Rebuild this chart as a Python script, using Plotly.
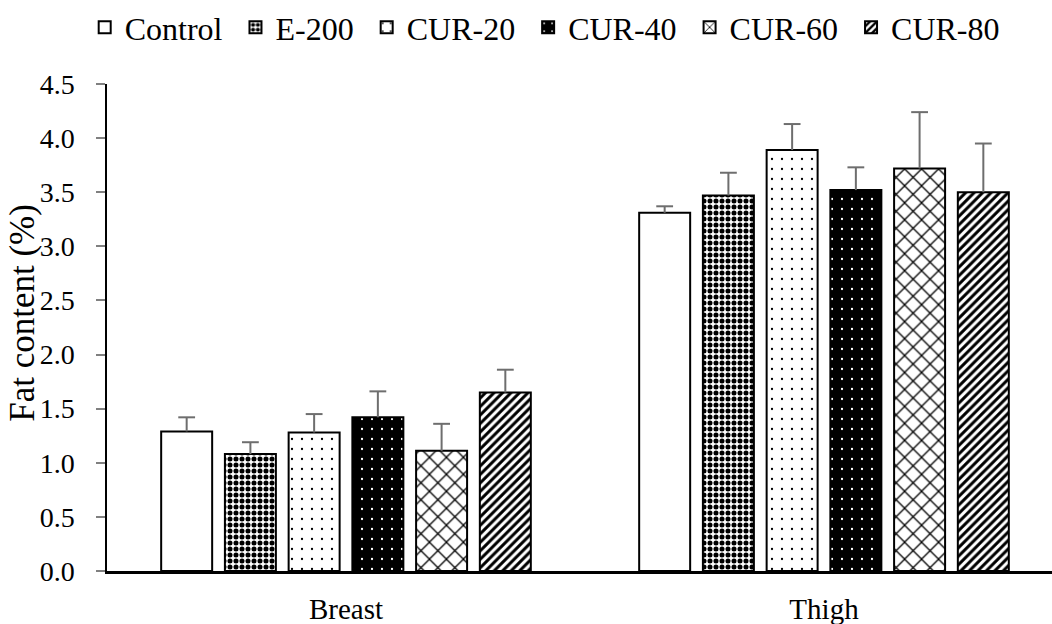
import plotly.graph_objects as go

# Fat content (%) of breast and thigh meat per treatment
categories = ["Breast", "Thigh"]
treatments = ["Control", "E-200", "CUR-20", "CUR-40", "CUR-60", "CUR-80"]
means = {
    "Control": [1.29, 3.31],
    "E-200":   [1.08, 3.47],
    "CUR-20":  [1.28, 3.89],
    "CUR-40":  [1.42, 3.52],
    "CUR-60":  [1.11, 3.72],
    "CUR-80":  [1.65, 3.50],
}
sd = {
    "Control": [0.13, 0.06],
    "E-200":   [0.11, 0.21],
    "CUR-20":  [0.17, 0.24],
    "CUR-40":  [0.24, 0.21],
    "CUR-60":  [0.25, 0.52],
    "CUR-80":  [0.21, 0.45],
}
y_ticks = [0.0, 0.5, 1.0, 1.5, 2.0, 2.5, 3.0, 3.5, 4.0, 4.5]

# fill pattern per treatment: (shape, bg, fg, size, solidity)
patterns = {
    "Control": ("", "white", "black", 8, 0.3),
    "E-200":   (".", "white", "black", 6, 0.55),
    "CUR-20":  (".", "white", "black", 10, 0.04),
    "CUR-40":  (".", "black", "white", 10, 0.04),
    "CUR-60":  ("x", "white", "black", 12, 0.2),
    "CUR-80":  ("/", "white", "black", 6, 0.5),
}

FONT = "Liberation Serif"
ERR_COLOR = "#6e6e6e"
NBSP = "\u00a0"

fig = go.Figure()
for t in treatments:
    shape, bg, fg, size, sol = patterns[t]
    fig.add_trace(go.Bar(
        name=t + NBSP,
        x=categories,
        y=means[t],
        offsetgroup=t,
        error_y=dict(type="data", array=sd[t], symmetric=False, arrayminus=[0, 0],
                     color=ERR_COLOR, thickness=2, width=0),
        marker=dict(
            color=bg,
            line=dict(color="black", width=2),
            pattern=dict(shape=shape, bgcolor=bg, fgcolor=fg, size=size,
                         solidity=sol, fillmode="replace"),
        ),
    ))

# caps on the upper end of each error bar
for t in treatments:
    fig.add_trace(go.Scatter(
        x=categories,
        y=[m + s for m, s in zip(means[t], sd[t])],
        mode="markers",
        offsetgroup=t,
        showlegend=False,
        hoverinfo="skip",
        marker=dict(symbol="line-ew", size=12, line=dict(color=ERR_COLOR, width=2)),
    ))

fig.update_layout(
    width=1052, height=624,
    margin=dict(l=107, r=0, t=83, b=53),
    paper_bgcolor="white", plot_bgcolor="white",
    barmode="group", bargap=0.2, bargroupgap=0.2,
    scattermode="group", scattergap=0.2,
    font=dict(family=FONT, color="black", size=28),
    showlegend=True,
    legend=dict(orientation="h", x=-0.0236, xanchor="left", y=1.115, yanchor="middle",
                font=dict(family=FONT, size=32, color="black"),
                itemwidth=30, tracegroupgap=0, bgcolor="rgba(0,0,0,0)"),
    xaxis=dict(range=[-0.5, 1.477], showline=True, linecolor="black", linewidth=2.5,
               ticks="", tickfont=dict(size=29), ticklabelstandoff=10,
               showgrid=False, zeroline=False),
    yaxis=dict(range=[0, 4.5], tickvals=y_ticks, ticktext=[f"{v:.1f}" for v in y_ticks],
               showline=True, linecolor="black", linewidth=1.5,
               ticks="outside", ticklen=9, tickcolor="#808080", tickwidth=1.5,
               tickfont=dict(size=28), ticklabelstandoff=16,
               showgrid=False, zeroline=False),
    annotations=[dict(text="Fat content (%)", xref="paper", yref="paper",
                      x=-0.0895, y=0.531, xanchor="center", yanchor="middle",
                      textangle=-90, showarrow=False,
                      font=dict(family=FONT, size=35, color="black"))],
)

fig.write_html("out.html")
